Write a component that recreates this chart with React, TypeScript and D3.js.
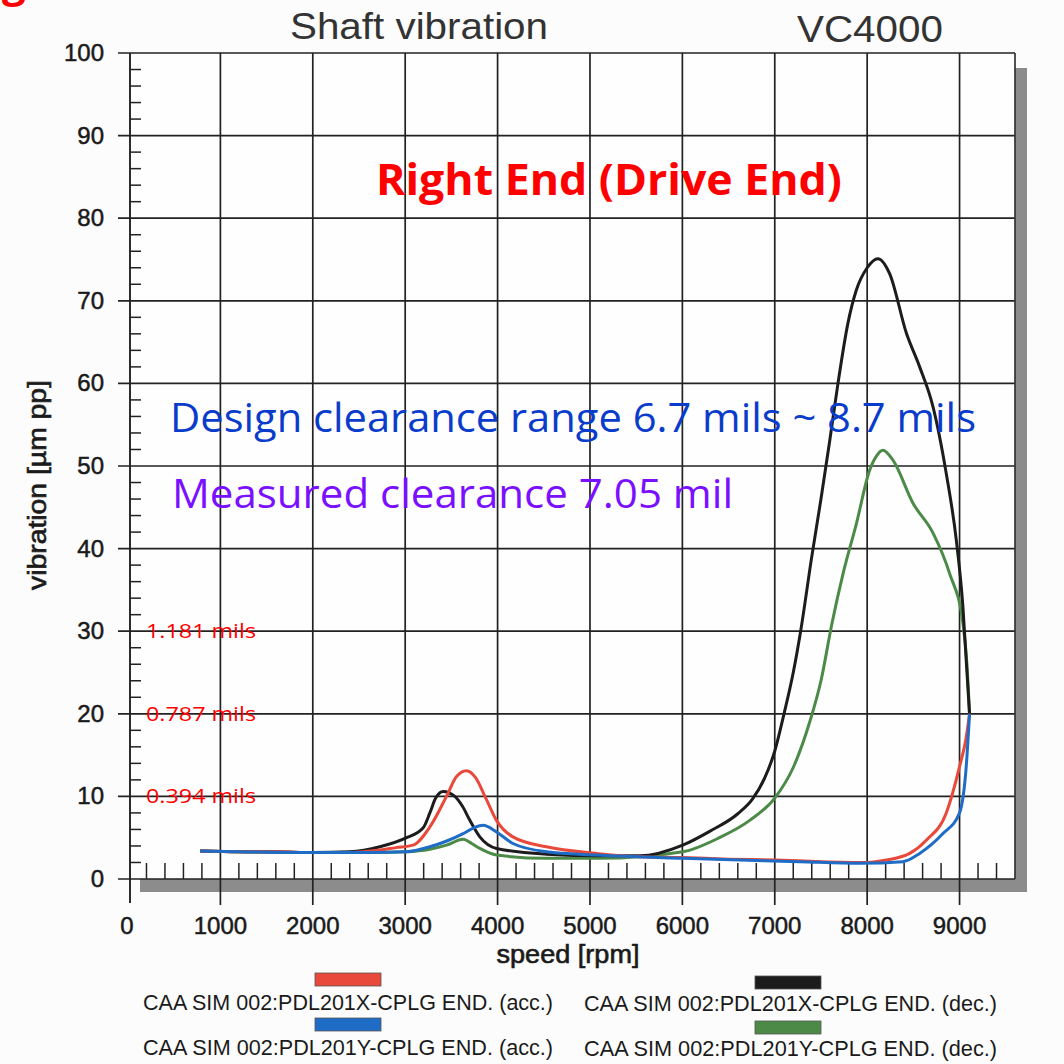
import React from 'react';
import * as d3 from 'd3';

// speed [rpm], vibration [µm pp]
const accX: [number, number][] = [
  [780, 3.4], [1200, 3.3], [1600, 3.3], [2000, 3.2], [2400, 3.2], [2726, 3.5], [2900, 3.8],
  [3085, 4.1], [3267, 6.3], [3447, 10.0], [3556, 12.4], [3664, 13.1], [3760, 12.3], [3880, 9.6],
  [3988, 7.1], [4166, 5.1], [4529, 3.9], [5070, 3.1], [5539, 2.7], [6000, 2.6], [6500, 2.4],
  [7000, 2.3], [7500, 2.1], [8000, 2.0], [8207, 2.3], [8460, 3.1], [8640, 4.7], [8856, 8.0],
  [9000, 13.6], [9070, 17], [9108, 20],
];
const decX: [number, number][] = [
  [780, 3.4], [1200, 3.3], [1600, 3.3], [2000, 3.2], [2400, 3.3], [2726, 3.9], [3015, 5.0],
  [3195, 6.2], [3267, 8.0], [3330, 9.8], [3411, 10.6], [3537, 10.0], [3620, 8.8], [3700, 7.1],
  [3808, 5.1], [3988, 3.7], [4529, 3.0], [5106, 2.8], [5539, 2.8], [6004, 4.1], [6300, 5.8],
  [6600, 7.9], [6760, 9.7], [6890, 12.2], [7000, 15.5], [7100, 20], [7200, 25], [7280, 30],
  [7400, 39], [7500, 46], [7594, 53], [7684, 60], [7792, 67.3], [7883, 71.3], [8000, 74],
  [8117, 75.1], [8243, 73.3], [8424, 66.1], [8568, 62], [8712, 57.2], [8856, 49.1], [8965, 41],
  [9036, 33], [9080, 25], [9108, 20],
];
const accY: [number, number][] = [
  [780, 3.4], [1200, 3.3], [2000, 3.2], [2600, 3.2], [3015, 3.3], [3267, 3.9], [3450, 4.6],
  [3627, 5.5], [3744, 6.2], [3844, 6.5], [3988, 5.7], [4166, 4.3], [4529, 3.3], [5070, 2.9],
  [6004, 2.5], [7270, 2.1], [7919, 1.9], [8387, 2.1], [8568, 3.1], [8820, 5.5], [9000, 8.0],
  [9072, 13.6], [9108, 20],
];
const decY: [number, number][] = [
  [780, 3.4], [1200, 3.3], [2000, 3.2], [2600, 3.2], [3015, 3.3], [3267, 3.6], [3447, 4.1],
  [3627, 4.8], [3720, 4.3], [3808, 3.7], [3988, 2.9], [4529, 2.5], [5100, 2.5], [6004, 3.3],
  [6400, 5.0], [6729, 7.1], [7000, 9.8], [7200, 13.5], [7378, 19], [7500, 24], [7620, 31],
  [7740, 37], [7883, 43], [8027, 49.5], [8100, 51.2], [8171, 51.9], [8279, 50.7], [8496, 45.5],
  [8712, 41.9], [8892, 37], [9036, 31], [9080, 26], [9108, 20],
];

const series = [
  { name: 'CAA SIM 002:PDL201Y-CPLG END. (dec.)', data: decY, color: '#4c8a47' },
  { name: 'CAA SIM 002:PDL201X-CPLG END. (dec.)', data: decX, color: '#1c1c1c' },
  { name: 'CAA SIM 002:PDL201X-CPLG END. (acc.)', data: accX, color: '#e8493a' },
  { name: 'CAA SIM 002:PDL201Y-CPLG END. (acc.)', data: accY, color: '#1f6cc6' },
];
const legendOrder = [2, 1, 3, 0];

const xTicks = [0, 1000, 2000, 3000, 4000, 5000, 6000, 7000, 8000, 9000];
const yTicks = [0, 10, 20, 30, 40, 50, 60, 70, 80, 90, 100];
const milsLabels = [
  { at: 30, text: '1.181 mils' },
  { at: 20, text: '0.787 mils' },
  { at: 10, text: '0.394 mils' },
];

const App = () => {
  const width = 1064;
  const height = 1064;
  const plot = { left: 130, right: 1015, top: 53, bottom: 879 };

  const x = d3.scaleLinear().domain([0, 9600]).range([128, plot.right]);
  const y = d3.scaleLinear().domain([0, 100]).range([plot.bottom, plot.top]);

  const line = d3.line<[number, number]>()
    .x(d => x(d[0]))
    .y(d => y(d[1]))
    .curve(d3.curveMonotoneX);

  const minorX = d3.range(200, 9600, 200).filter(v => v % 1000 !== 0);
  const minorY = d3.range(2, 100, 2).filter(v => v % 10 !== 0);

  const axisFont = '"Liberation Sans", Arial, sans-serif';
  const noteFont = '"Open Sans", "Noto Sans", sans-serif';
  const ink = '#1a1a1a';

  return (
    <svg
      width={width}
      height={height}
      style={{ position: 'absolute', left: 0, top: 0, background: '#fcfcfc' }}
    >
      <text x={2} y={-3} fontFamily={noteFont} fontWeight="bold" fontSize={42} fill="#ff0000">g</text>

      {/* shadow */}
      <rect x={plot.right} y={68} width={12} height={plot.bottom + 13 - 68} fill="#8c8c8c" />
      <rect x={140} y={plot.bottom} width={plot.right + 12 - 140} height={13} fill="#8c8c8c" />
      <rect x={plot.left} y={plot.top} width={plot.right - plot.left} height={plot.bottom - plot.top} fill="#fefefe" />

      {/* grid */}
      {yTicks.map(t => (
        <line key={'h' + t} x1={118} x2={plot.right} y1={y(t)} y2={y(t)} stroke="#222" strokeWidth={1.7} />
      ))}
      {xTicks.filter(t => t > 0).map(t => (
        <line key={'v' + t} x1={x(t)} x2={x(t)} y1={plot.top} y2={905} stroke="#222" strokeWidth={1.7} />
      ))}
      <line x1={plot.left} x2={plot.left} y1={plot.top} y2={903} stroke="#222" strokeWidth={1.9} />
      <line x1={plot.right} x2={plot.right} y1={plot.top} y2={plot.bottom} stroke="#333" strokeWidth={1.7} />
      {minorY.map(t => (
        <line key={'my' + t} x1={plot.left} x2={plot.left + 11} y1={y(t)} y2={y(t)} stroke="#222" strokeWidth={1.5} />
      ))}
      {minorX.map(t => (
        <line key={'mx' + t} x1={x(t)} x2={x(t)} y1={plot.bottom} y2={plot.bottom - 16} stroke="#222" strokeWidth={1.5} />
      ))}

      {/* tick labels */}
      {yTicks.map(t => (
        <text key={'yl' + t} x={104} y={y(t) + 8} textAnchor="end" fontFamily={axisFont} fontSize={24} fill={ink} stroke={ink} strokeWidth={0.5}>
          {t}
        </text>
      ))}
      {xTicks.map(t => (
        <text key={'xl' + t} x={t === 0 ? 127 : x(t)} y={934} textAnchor="middle" fontFamily={axisFont} fontSize={24} fill={ink} stroke={ink} strokeWidth={0.5}>
          {t}
        </text>
      ))}
      <text x={568} y={963} textAnchor="middle" fontFamily={axisFont} fontSize={25} fill={ink} stroke={ink} strokeWidth={0.6} textLength={143} lengthAdjust="spacingAndGlyphs">
        speed [rpm]
      </text>
      <text transform="translate(46,485) rotate(-90)" textAnchor="middle" fontFamily={axisFont} fontSize={25} fill={ink} stroke={ink} strokeWidth={0.6} textLength={210} lengthAdjust="spacingAndGlyphs">
        vibration [µm pp]
      </text>

      {/* titles */}
      <text x={290} y={39} fontFamily={axisFont} fontSize={36} fill="#333" textLength={258} lengthAdjust="spacingAndGlyphs">Shaft vibration</text>
      <text x={797} y={42} fontFamily={axisFont} fontSize={37} fill="#333" textLength={146} lengthAdjust="spacingAndGlyphs">VC4000</text>

      {/* curves */}
      {series.map(s => (
        <path key={s.name} d={line(s.data) ?? ''} fill="none" stroke={s.color} strokeWidth={3} strokeLinejoin="round" />
      ))}

      {/* notes */}
      <text x={376} y={195} fontFamily={noteFont} fontWeight="bold" fontSize={43} fill="#ff0000" textLength={466} lengthAdjust="spacingAndGlyphs">
        Right End (Drive End)
      </text>
      <text x={170} y={432} fontFamily={noteFont} fontSize={40} fill="#0a3ccc" textLength={806} lengthAdjust="spacingAndGlyphs">
        Design clearance range 6.7 mils ~ 8.7 mils
      </text>
      <text x={172} y={508} fontFamily={noteFont} fontSize={40} fill="#7a10ff" textLength={561} lengthAdjust="spacingAndGlyphs">
        Measured clearance 7.05 mil
      </text>
      {milsLabels.map(m => (
        <text key={m.text} x={146} y={y(m.at) + 7} fontFamily={noteFont} fontSize={20} fill="#ff0000" textLength={110} lengthAdjust="spacingAndGlyphs">
          {m.text}
        </text>
      ))}

      {/* legend */}
      {legendOrder.map((idx, i) => {
        const s = series[idx];
        const col = i % 2;
        const row = Math.floor(i / 2);
        const sx = col === 0 ? 315 : 755;
        const tx = col === 0 ? 143 : 584;
        const base = 1010 + row * 45 + (col === 1 ? 1 : 0);
        return (
          <g key={'lg' + idx}>
            <rect x={sx} y={base - 37 + col * 2} width={66} height={13} fill={s.color} stroke="#555" strokeWidth={0.8} />
            <text x={tx} y={base} fontFamily={axisFont} fontSize={22} fill={ink} textLength={col === 0 ? 410 : 413} lengthAdjust="spacingAndGlyphs">
              {s.name}
            </text>
          </g>
        );
      })}
    </svg>
  );
};

export default App;
